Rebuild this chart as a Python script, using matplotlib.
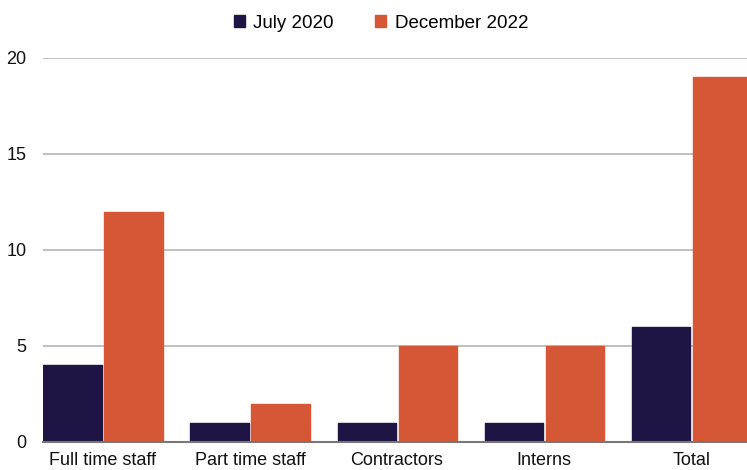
import numpy as np
import matplotlib.pyplot as plt

categories = ['Full time staff', 'Part time staff', 'Contractors', 'Interns', 'Total']
july_2020 = [4, 1, 1, 1, 6]
december_2022 = [12, 2, 5, 5, 19]

navy = '#1f1544'
orange = '#d65735'

plt.rcParams['font.family'] = ['Liberation Sans', 'DejaVu Sans']

fig = plt.figure(figsize=(7.47, 4.70), dpi=100)
ax = fig.add_axes([43 / 747, 28 / 470, 1 - 43 / 747, (442 - 58) / 470])

x = np.arange(len(categories))
w = 0.395
ax.bar(x - w / 2 - 0.01, july_2020, w, color=navy, edgecolor=navy, linewidth=1.0,
       joinstyle='round', label='July 2020', zorder=3)
ax.bar(x + w / 2 + 0.01, december_2022, w, color=orange, edgecolor=orange, linewidth=1.0,
       joinstyle='round', label='December 2022', zorder=3)

ax.set_xlim(-0.408, 4.38)
ax.set_ylim(0, 20)
ax.set_yticks([0, 5, 10, 15, 20])
ax.set_xticks(x)
ax.set_xticklabels(categories)
ax.tick_params(axis='both', length=0, labelsize=13, colors='#111111')
ax.tick_params(axis='y', pad=12)
ax.tick_params(axis='x', pad=7)
ax.grid(axis='y', color='#b5b5b5', linewidth=1.2, zorder=0)
for s in ['top', 'right', 'left']:
    ax.spines[s].set_visible(False)
ax.spines['bottom'].set_color('#777777')
ax.spines['bottom'].set_linewidth(1.5)
ax.spines['bottom'].set_zorder(4)

fig.legend(loc='upper center', bbox_to_anchor=(0.51, 1.0), ncol=2, frameon=False,
           fontsize=13.5, handlelength=0.6, handleheight=0.6, handletextpad=0.45,
           columnspacing=2.2, borderaxespad=0.4)

fig.savefig('out.png', dpi=100)
